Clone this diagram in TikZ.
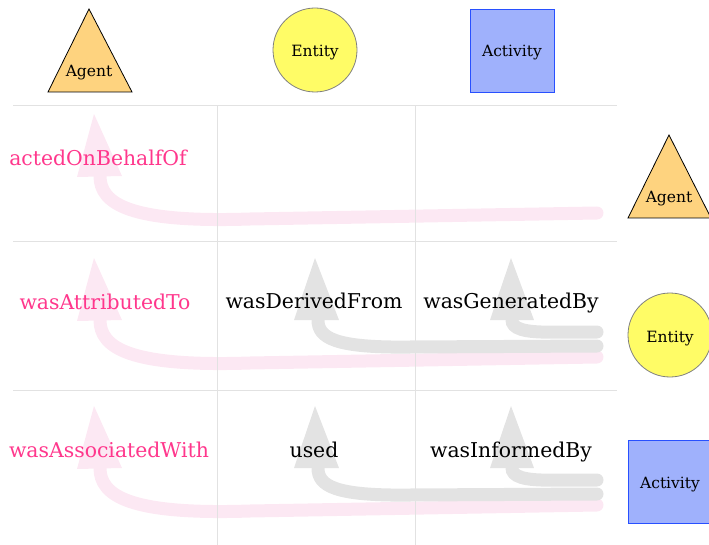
\documentclass[tikz,border=0pt]{standalone}
\usepackage{fontspec}
\setmainfont{DejaVu Serif}
\definecolor{gridgray}{RGB}{226,226,226}
\definecolor{pinkarrow}{RGB}{252,232,243}
\definecolor{grayarrow}{RGB}{227,227,227}
\definecolor{relpink}{RGB}{255,55,140}
\definecolor{agentfill}{RGB}{254,211,127}
\definecolor{entityfill}{RGB}{255,252,102}
\definecolor{activityfill}{RGB}{159,177,252}
\definecolor{activitydraw}{RGB}{40,80,255}
\begin{document}
\begin{tikzpicture}[x=1pt,y=-1pt,
  gridline/.style={draw=gridgray,line width=1pt},
  pinkline/.style={draw=pinkarrow,line width=13pt,line cap=round},
  pinkhead/.style={fill=pinkarrow},
  grayline/.style={draw=grayarrow,line width=13pt,line cap=round},
  grayhead/.style={fill=grayarrow},
  rel/.style={font=\fontsize{20.4}{24}\selectfont,text=black,inner sep=0pt,anchor=base},
  prel/.style={rel,text=relpink},
  shapelabel/.style={font=\fontsize{15.5}{18}\selectfont,inner sep=0pt,anchor=base},
  agentshape/.style={fill=agentfill,draw=black,line width=0.8pt},
  entityshape/.style={circle,fill=entityfill,draw=gray,line width=0.8pt,minimum size=84pt,inner sep=0pt},
  activityshape/.style={rectangle,fill=activityfill,draw=activitydraw,line width=0.8pt,minimum width=84pt,minimum height=83pt,inner sep=0pt}]
\useasboundingbox (0,0) rectangle (709,545);

% ---------- pink arrows ----------
\foreach \dy/\r in {-144/1,0/2,148/3}{
  \begin{scope}[shift={(0,\dy)}]
    \coordinate (ps\r) at (597,357);
    \coordinate (pe\r) at (100,320);
    \draw[pinkline] (ps\r) -- (250,363) .. controls (130,367) and (100,348) .. (pe\r);
    \fill[pinkhead] (77,321) -- (94,258) -- (122,320) -- cycle;
  \end{scope}
}

% ---------- grid ----------
\coordinate (h1a) at (13,106); \coordinate (h1b) at (617,106);
\coordinate (h2a) at (13,242); \coordinate (h2b) at (617,242);
\coordinate (h3a) at (13,390); \coordinate (h3b) at (617,390);
\coordinate (v1a) at (217,106); \coordinate (v1b) at (217,545);
\coordinate (v2a) at (415,106); \coordinate (v2b) at (415,545);
\draw[gridline] (h1a) -- (h1b);
\draw[gridline] (h2a) -- (h2b);
\draw[gridline] (h3a) -- (h3b);
\draw[gridline] (v1a) -- (v1b);
\draw[gridline] (v2a) -- (v2b);

% ---------- gray arrows ----------
\foreach \dy/\r in {0/2,148/3}{
  \begin{scope}[shift={(0,\dy)}]
    \coordinate (gas\r) at (597,346);
    \coordinate (gae\r) at (318,320);
    \draw[grayline] (gas\r) -- (410,347) .. controls (335,348) and (318,338) .. (gae\r);
    \fill[grayhead] (294,320) -- (315,258) -- (339,320) -- cycle;
    \coordinate (gbs\r) at (597,332);
    \coordinate (gbe\r) at (512,320);
    \draw[grayline] (gbs\r) -- (556,332) .. controls (522,333) and (512,328) .. (gbe\r);
    \fill[grayhead] (490,320) -- (511,258) -- (534,320) -- cycle;
  \end{scope}
}

% ---------- top shapes ----------
\draw[agentshape] (89,9) -- (132,92) -- (48,92) -- cycle;
\node[shapelabel] (agenttop) at (89,77) {Agent};
\node[entityshape] (entitytop) at (315,50) {};
\node[shapelabel] (entitytoplabel) at (315,57) {Entity};
\node[activityshape] (activitytop) at (512,50.5) {};
\node[shapelabel] (activitytoplabel) at (512,57) {Activity};

% ---------- right shapes ----------
\draw[agentshape] (669,135) -- (711,218) -- (628,218) -- cycle;
\node[shapelabel] (agentright) at (669,203) {Agent};
\node[entityshape] (entityright) at (670,335) {};
\node[shapelabel] (entityrightlabel) at (670,342) {Entity};
\node[activityshape] (activityright) at (670,481.5) {};
\node[shapelabel] (activityrightlabel) at (670,488) {Activity};

% ---------- labels ----------
\node[prel] (l11) at (98,166) {actedOnBehalfOf};
\node[prel] (l21) at (105,309) {wasAttributedTo};
\node[rel]  (l22) at (314,308) {wasDerivedFrom};
\node[rel]  (l23) at (511,308) {wasGeneratedBy};
\node[prel] (l31) at (109,457) {wasAssociatedWith};
\node[rel]  (l32) at (314,457) {used};
\node[rel]  (l33) at (511,457) {wasInformedBy};
\end{tikzpicture}
\end{document}
